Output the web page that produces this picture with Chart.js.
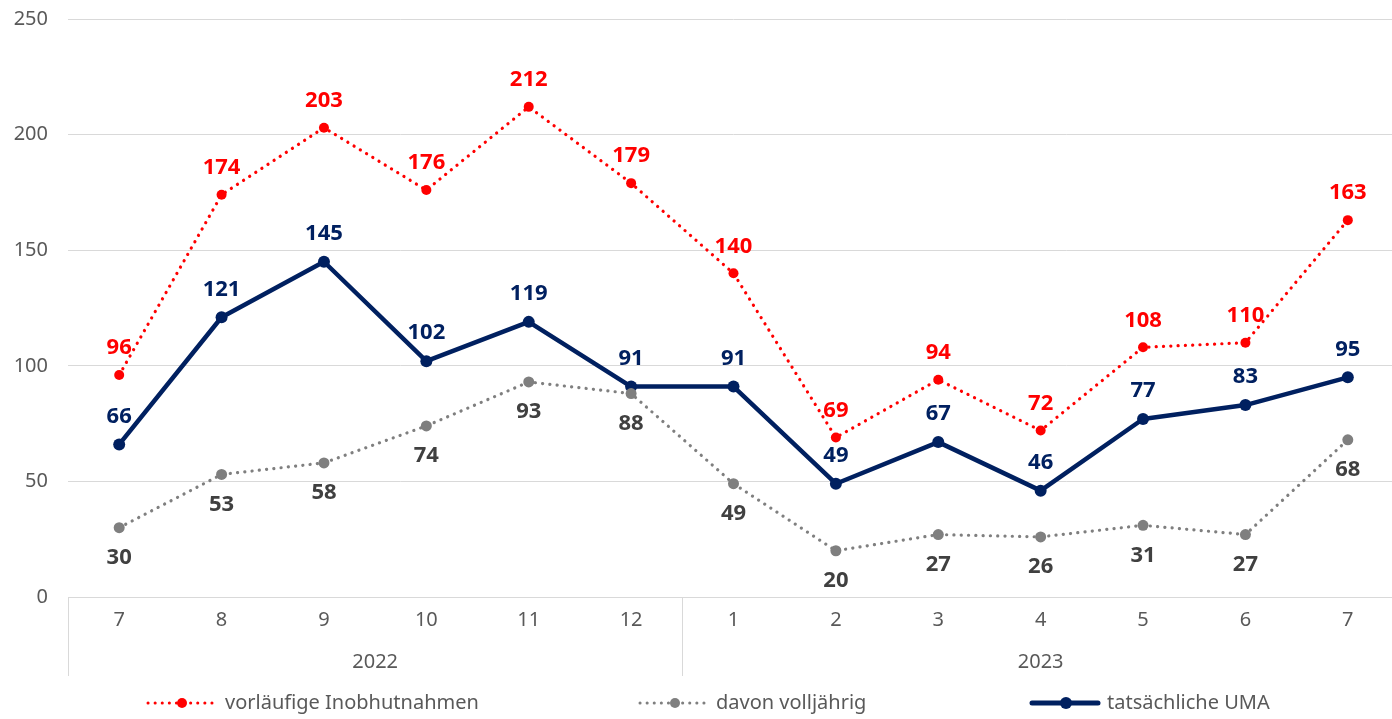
<!DOCTYPE html>
<html>
<head>
<meta charset="utf-8">
<script src="https://cdn.jsdelivr.net/npm/chart.js@4.4.0/dist/chart.umd.min.js"></script>
<style>
html,body{margin:0;padding:0;background:#fff;overflow:hidden;}
#wrap{width:1405px;height:719px;position:relative;}
canvas{display:block;}
</style>
</head>
<body>
<div id="wrap"><canvas id="c" width="1405" height="719"></canvas></div>
<script>
const months = ["7","8","9","10","11","12","1","2","3","4","5","6","7"];
const years = ["2022","2023"];
const yearSpans = [6, 7];
const vorlaeufig = [96,174,203,176,212,179,140,69,94,72,108,110,163];
const volljaehrig = [30,53,58,74,93,88,49,20,27,26,31,27,68];
const uma = [66,121,145,102,119,91,91,49,67,46,77,83,95];
const seriesNames = ["vorläufige Inobhutnahmen","davon volljährig","tatsächliche UMA"];
const yTicks = [0,50,100,150,200,250];

const FONT = "'Noto Sans', 'Open Sans', sans-serif";
const RED = "#FF0000", GREY = "#7F7F7F", NAVY = "#002060", TXT = "#595959", GRID = "#D9D9D9";

const labelPlugin = {
  id: 'labels',
  afterDatasetsDraw(chart) {
    const ctx = chart.ctx;
    ctx.save();
    ctx.font = "bold 22px " + FONT;
    ctx.textAlign = "center";
    ctx.textBaseline = "middle";
    const cfg = [
      {ds: 0, color: RED, off: -27},
      {ds: 1, color: "#404040", off: 30},
      {ds: 2, color: NAVY, off: -28}
    ];
    cfg.forEach(c => {
      const meta = chart.getDatasetMeta(c.ds);
      const data = chart.data.datasets[c.ds].data;
      meta.data.forEach((pt, i) => {
        ctx.fillStyle = c.color;
        ctx.fillText(String(data[i]), pt.x, pt.y + c.off);
      });
    });
    ctx.restore();
  }
};

const axisPlugin = {
  id: 'axisExtra',
  afterDraw(chart) {
    const ctx = chart.ctx;
    const xs = chart.scales.x;
    const area = chart.chartArea;
    const step = (xs.getPixelForValue(1) - xs.getPixelForValue(0));
    ctx.save();
    ctx.strokeStyle = GRID;
    ctx.lineWidth = 1;
    let idx = 0;
    const bounds = [area.left];
    yearSpans.forEach(s => { idx += s; bounds.push(xs.getPixelForValue(0) - step/2 + idx*step); });
    bounds.forEach(b => {
      const bx = Math.round(b) + 0.5;
      ctx.beginPath(); ctx.moveTo(bx, area.bottom); ctx.lineTo(bx, area.bottom + 79); ctx.stroke();
    });
    ctx.fillStyle = TXT;
    ctx.font = "20px " + FONT;
    ctx.textAlign = "center";
    ctx.textBaseline = "middle";
    years.forEach((y, i) => {
      ctx.fillText(y, (bounds[i] + bounds[i+1]) / 2, area.bottom + 65);
    });
    const ly = 703;
    const items = [
      {x0: 148, x1: 212, dot: 182, tx: 225, color: RED, dash: true, r: 5, w: 3},
      {x0: 640, x1: 705, dot: 675, tx: 716, color: GREY, dash: true, r: 5, w: 3},
      {x0: 1032, x1: 1098, dot: 1066, tx: 1107, color: NAVY, dash: false, r: 6, w: 5}
    ];
    items.forEach((it, i) => {
      ctx.strokeStyle = it.color;
      ctx.lineWidth = it.w;
      ctx.lineCap = "round";
      ctx.setLineDash(it.dash ? [0.1, 7] : []);
      ctx.beginPath(); ctx.moveTo(it.x0, ly); ctx.lineTo(it.x1, ly); ctx.stroke();
      ctx.setLineDash([]);
      ctx.fillStyle = it.color;
      ctx.beginPath(); ctx.arc(it.dot, ly, it.r, 0, Math.PI*2); ctx.fill();
      ctx.fillStyle = TXT;
      ctx.textAlign = "left";
      ctx.fillText(seriesNames[i], it.tx, ly);
    });
    ctx.restore();
  }
};

new Chart(document.getElementById('c'), {
  type: 'line',
  data: {
    labels: months,
    datasets: [
      {label: seriesNames[0], data: vorlaeufig, borderColor: RED, backgroundColor: RED,
       borderWidth: 3.2, borderDash: [0.1, 7.2], borderCapStyle: 'round',
       pointRadius: 5, pointBackgroundColor: RED, pointBorderWidth: 0, tension: 0},
      {label: seriesNames[1], data: volljaehrig, borderColor: GREY, backgroundColor: GREY,
       borderWidth: 3.2, borderDash: [0.1, 7.2], borderCapStyle: 'round',
       pointRadius: 5.5, pointBackgroundColor: GREY, pointBorderWidth: 0, tension: 0},
      {label: seriesNames[2], data: uma, borderColor: NAVY, backgroundColor: NAVY,
       borderWidth: 4.5, borderJoinStyle: 'round',
       pointRadius: 6, pointBackgroundColor: NAVY, pointBorderWidth: 0, tension: 0}
    ]
  },
  options: {
    responsive: false,
    animation: false,
    events: [],
    layout: {padding: {top: 19, right: 0, left: 0, bottom: 0}},
    plugins: {legend: {display: false}, tooltip: {enabled: false}},
    scales: {
      x: {
        offset: true,
        grid: {display: false, drawTicks: false},
        border: {display: true, color: GRID, width: 1},
        ticks: {color: TXT, font: {family: FONT, size: 20}, padding: 11, maxRotation: 0, autoSkip: false},
        afterFit(s) { s.height = 122; s.paddingLeft = 0; s.paddingRight = 0; s.paddingTop = 0; s.paddingBottom = 0; }
      },
      y: {
        min: 0, max: 250,
        afterBuildTicks(s) { s.ticks = yTicks.map(v => ({value: v})); },
        grid: {color: GRID, lineWidth: 1, drawTicks: false},
        border: {display: false},
        ticks: {color: TXT, font: {family: FONT, size: 20}, padding: 20},
        afterFit(s) { s.width = 68; s.paddingTop = 0; s.paddingBottom = 0; s.paddingLeft = 0; s.paddingRight = 0; }
      }
    }
  },
  plugins: [labelPlugin, axisPlugin]
});
</script>
</body>
</html>
